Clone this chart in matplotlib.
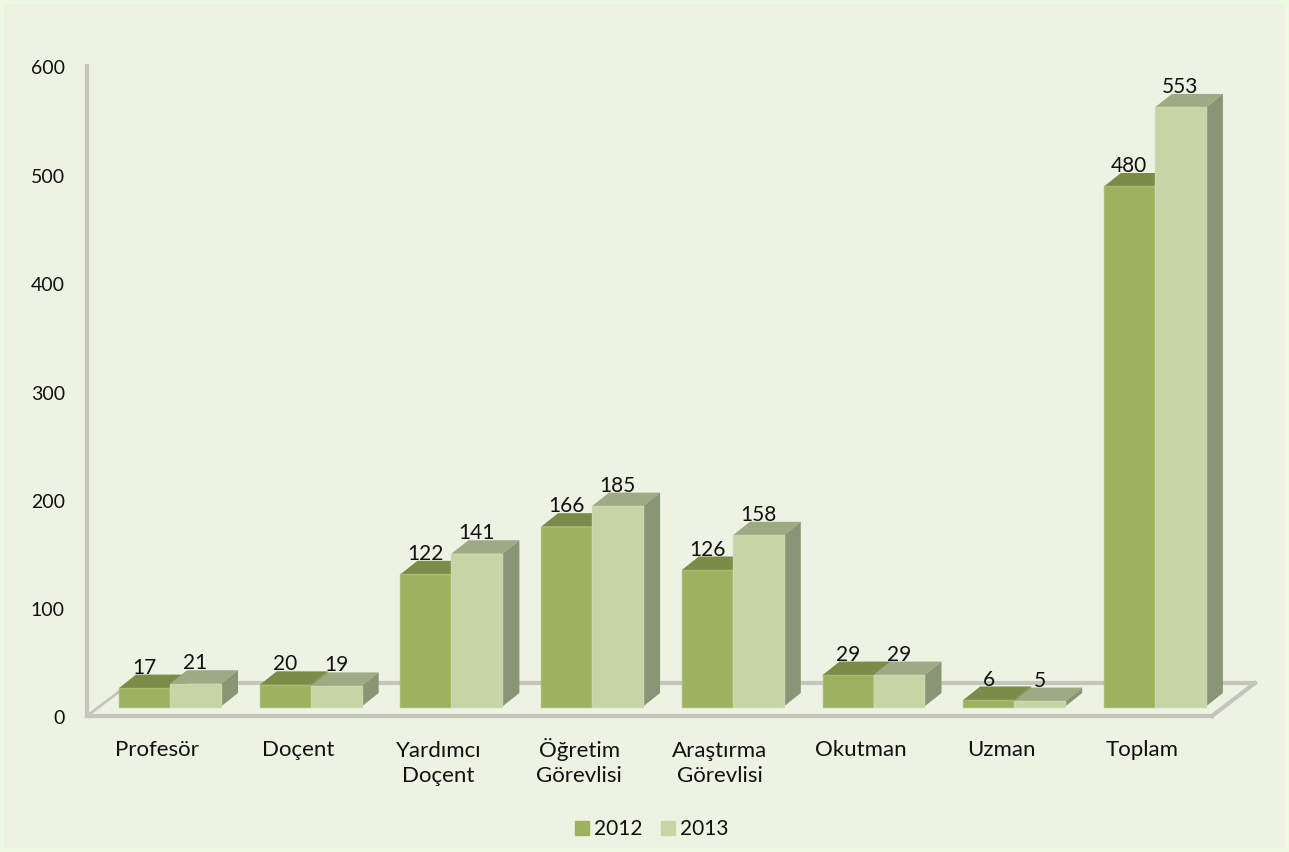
import matplotlib
matplotlib.use("Agg")
import matplotlib.pyplot as plt
from matplotlib.patches import Polygon, Rectangle
from matplotlib.transforms import ScaledTranslation

categories = ["Profesör", "Doçent", "Yardımcı\nDoçent", "Öğretim\nGörevlisi",
              "Araştırma\nGörevlisi", "Okutman", "Uzman", "Toplam"]
values_2012 = [17, 20, 122, 166, 126, 29, 6, 480]
values_2013 = [21, 19, 141, 185, 158, 29, 5, 553]
y_ticks = [0, 100, 200, 300, 400, 500, 600]

W, H = 1289, 852
plt.rcParams['font.family'] = ['Lato', 'DejaVu Sans']
fig = plt.figure(figsize=(W / 100, H / 100), dpi=100, facecolor="#EFFAE4")
fig.add_artist(Rectangle((4 / W, 4 / H), (W - 8) / W, (H - 8) / H, transform=fig.transFigure,
                         facecolor="#EEF2E3", edgecolor="none", zorder=-10))

L, R, T, B = 87, 1212, 66, 716
ax = fig.add_axes([L / W, 1 - B / H, (R - L) / W, (B - T) / H])
ax.patch.set_alpha(0)
px_x = 140.7
px_y = (B - T) / 600
ax.set_xlim(-(170 - L) / px_x, (R - 170) / px_x)
ax.set_ylim(0, 600)

bar_w = 51 / px_x
base = 9.5 / px_y
dx, dy = 17 / px_x, 13.5 / px_y
fx, fy = 43 / px_x, 33 / px_y   # floor depth
xmin, xmax = ax.get_xlim()

for s in ("top", "right"):
    ax.spines[s].set_visible(False)
for s in ("left", "bottom"):
    ax.spines[s].set_color("#C4C6BC")
    ax.spines[s].set_linewidth(3)
    ax.spines[s].set_zorder(1)

floor = "#C4C6BC"
ax.plot([xmin, xmin + 33 / px_x], [0, 25 / px_y], color=floor, lw=2, clip_on=False, zorder=1)
ax.plot([xmin + 45 / px_x, xmax + fx], [fy, fy], color=floor, lw=3, clip_on=False, zorder=1,
        solid_capstyle="butt")
ax.plot([xmax, xmax + fx], [0, fy], color=floor, lw=3, clip_on=False, zorder=1)

styles = [("#9DB25F", "#7B8C49", "#7B8C49"), ("#C6D5A6", "#9EAA84", "#889675")]
edge = ["#A8BB72", "#CBD9AE"]


def draw_bar(x, v, k, z):
    front, top_c, side_c = styles[k]
    t = base + v
    ax.add_patch(Polygon([(x, t), (x + bar_w, t), (x + bar_w + dx, t + dy), (x + dx, t + dy)],
                         facecolor=top_c, edgecolor="none", zorder=z, clip_on=False))
    ax.add_patch(Polygon([(x + bar_w, base), (x + bar_w + dx, base + dy),
                          (x + bar_w + dx, t + dy), (x + bar_w, t)],
                         facecolor=side_c, edgecolor="none", zorder=z, clip_on=False))
    ax.bar(x, v, width=bar_w, bottom=base, align="edge", color=front,
           edgecolor=edge[k], linewidth=1, zorder=z + 0.1, clip_on=False)
    ax.annotate(str(v), (x + bar_w / 2, t), xytext=(0, 20.5 * 0.72), textcoords="offset points",
                ha="center", va="center", fontsize=15, color="#111111", zorder=20)


for i in range(len(categories)):
    draw_bar(i - bar_w, values_2012[i], 0, 3 + i)
    draw_bar(i, values_2013[i], 1, 3.5 + i)

ax.set_xticks(range(len(categories)))
ax.set_xticklabels(categories, fontsize=16, color="#111111", linespacing=1.3, va="baseline")
ax.set_yticks(y_ticks)
ax.set_yticklabels([str(v) for v in y_ticks], fontsize=14, color="#111111")
ax.tick_params(axis="both", length=0)
ax.tick_params(axis="x", pad=0)
ax.tick_params(axis="y", pad=16)


def px_shift(a, b):
    return ScaledTranslation(a * 0.72 / 72, b * 0.72 / 72, fig.dpi_scale_trans)


for lab, name in zip(ax.get_xticklabels(), categories):
    drop = 66 if "\n" in name else 40
    lab.set_transform(lab.get_transform() + px_shift(-13, -drop))
for lab in ax.get_yticklabels():
    lab.set_transform(lab.get_transform() + px_shift(0, -1.5))

handles = [Rectangle((0, 0), 1, 1, color=styles[0][0]), Rectangle((0, 0), 1, 1, color=styles[1][0])]
fig.legend(handles, ["2012", "2013"], loc="center", bbox_to_anchor=(652 / W, 1 - 829 / H), ncol=2,
           frameon=False, fontsize=15, handlelength=0.67, handleheight=0.67, handletextpad=0.24,
           columnspacing=0.9, labelcolor="#111111")
fig.savefig("out.png", dpi=100, facecolor=fig.get_facecolor())
